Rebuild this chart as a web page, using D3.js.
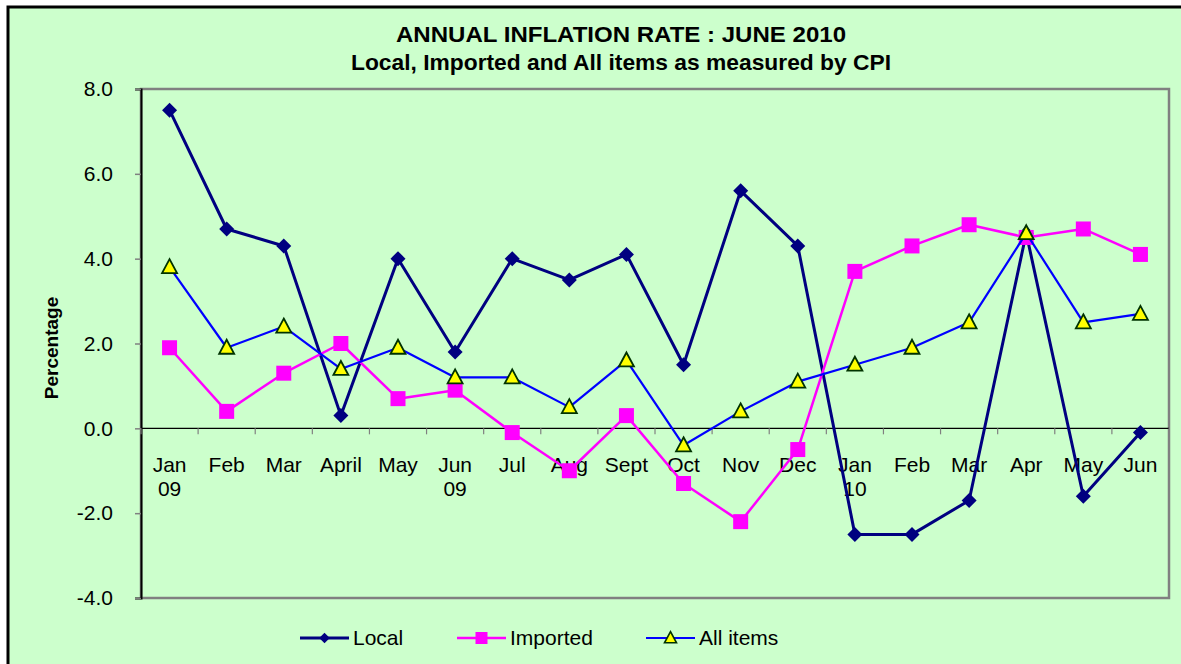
<!DOCTYPE html>
<html>
<head>
<meta charset="utf-8">
<script src="https://cdn.jsdelivr.net/npm/d3@7"></script>
<style>
  body { margin: 0; background: #fff; }
  svg { display: block; font-family: "Liberation Sans", Arial, sans-serif; }
</style>
</head>
<body>
<script>
// data
var months = ["Jan\n09", "Feb", "Mar", "April", "May", "Jun\n09", "Jul", "Aug", "Sept", "Oct",
              "Nov", "Dec", "Jan\n10", "Feb", "Mar", "Apr", "May", "Jun"];
var local    = [7.5, 4.7, 4.3, 0.3, 4.0, 1.8, 4.0, 3.5, 4.1, 1.5, 5.6, 4.3, -2.5, -2.5, -1.7, 4.6, -1.6, -0.1];
var imported = [1.9, 0.4, 1.3, 2.0, 0.7, 0.9, -0.1, -1.0, 0.3, -1.3, -2.2, -0.5, 3.7, 4.3, 4.8, 4.5, 4.7, 4.1];
var allItems = [3.8, 1.9, 2.4, 1.4, 1.9, 1.2, 1.2, 0.5, 1.6, -0.4, 0.4, 1.1, 1.5, 1.9, 2.5, 4.6, 2.5, 2.7];
var yTicks = [-4, -2, 0, 2, 4, 6, 8];
var seriesNames = ["Local", "Imported", "All items"];

var W = 1181, H = 664;
var pLeft = 141, pRight = 1169, pTop = 89, pBottom = 598;

var svg = d3.select("body").append("svg")
    .attr("width", W)
    .attr("height", H);

// outer chart area
svg.append("rect")
    .attr("x", 8).attr("y", 7)
    .attr("width", W + 10).attr("height", H + 10)
    .attr("fill", "#CCFFCC")
    .attr("stroke", "#000")
    .attr("stroke-width", 3);

var x = d3.scaleBand().domain(d3.range(months.length)).range([pLeft, pRight]);
var y = d3.scaleLinear().domain([-4, 8]).range([pBottom, pTop]);
var cx = function(i) { return x(i) + x.bandwidth() / 2; };

// plot area border
svg.append("rect")
    .attr("x", pLeft).attr("y", pTop)
    .attr("width", pRight - pLeft).attr("height", pBottom - pTop)
    .attr("fill", "none")
    .attr("stroke", "#808080")
    .attr("stroke-width", 2.5);

// y axis
var fmt = function(d) { return d3.format(".1f")(d).replace("\u2212", "-"); };
var yAxis = svg.append("g")
    .attr("transform", "translate(" + pLeft + ",0)")
    .call(d3.axisLeft(y).tickValues(yTicks).tickSize(6).tickPadding(22).tickFormat(fmt));
yAxis.select(".domain").attr("stroke", "#000").attr("stroke-width", 2);
yAxis.selectAll(".tick line").attr("stroke", "#808080").attr("stroke-width", 1.5);
yAxis.selectAll(".tick text").attr("font-size", 21).attr("fill", "#000")
    .attr("font-family", "Liberation Sans, Arial, sans-serif");

// x axis at zero
svg.append("line")
    .attr("x1", pLeft).attr("x2", pRight)
    .attr("y1", y(0)).attr("y2", y(0))
    .attr("stroke", "#000")
    .attr("stroke-width", 1.2);

// tick marks between categories
svg.append("g").selectAll("line")
    .data(d3.range(months.length + 1))
    .join("line")
    .attr("x1", function(i) { return pLeft + i * x.bandwidth(); })
    .attr("x2", function(i) { return pLeft + i * x.bandwidth(); })
    .attr("y1", y(0))
    .attr("y2", y(0) + 6)
    .attr("stroke", "#808080")
    .attr("stroke-width", 1.2);

// category labels
var lab = svg.append("g").selectAll("text")
    .data(months)
    .join("text")
    .attr("text-anchor", "middle")
    .attr("font-size", 21)
    .attr("fill", "#000");
lab.each(function(d, i) {
    var parts = d.split("\n");
    d3.select(this).selectAll("tspan")
        .data(parts)
        .join("tspan")
        .attr("x", cx(i))
        .attr("y", function(p, j) { return 472 + j * 24; })
        .text(function(p) { return p; });
});

var line = d3.line()
    .x(function(d, i) { return cx(i); })
    .y(function(d) { return y(d); });

var diamond = "M0,-7.5L7.5,0L0,7.5L-7.5,0Z";
var square = "M-7.5,-7.5H7.5V7.5H-7.5Z";
var triangle = "M0,-8L7.5,6H-7.5Z";

function drawSeries(vals, color, width, shape, fill, stroke) {
    svg.append("path")
        .datum(vals)
        .attr("fill", "none")
        .attr("stroke", color)
        .attr("stroke-width", width)
        .attr("stroke-linejoin", "round")
        .attr("d", line);
    svg.append("g").selectAll("path")
        .data(vals)
        .join("path")
        .attr("transform", function(d, i) { return "translate(" + cx(i) + "," + y(d) + ")"; })
        .attr("d", shape)
        .attr("fill", fill)
        .attr("stroke", stroke)
        .attr("stroke-width", stroke == "none" ? 0 : 1.8);
}

drawSeries(local, "#000080", 3, diamond, "#000080", "none");
drawSeries(imported, "#FF00FF", 2.5, square, "#FF00FF", "none");
drawSeries(allItems, "#0000FF", 2.2, triangle, "#FFFF00", "#003300");

// titles
svg.append("text")
    .attr("x", 621).attr("y", 42)
    .attr("text-anchor", "middle")
    .attr("font-size", 22).attr("font-weight", "bold")
    .attr("textLength", 450).attr("lengthAdjust", "spacingAndGlyphs")
    .text("ANNUAL INFLATION RATE : JUNE 2010");
svg.append("text")
    .attr("x", 621).attr("y", 70)
    .attr("text-anchor", "middle")
    .attr("font-size", 22).attr("font-weight", "bold")
    .attr("textLength", 540).attr("lengthAdjust", "spacingAndGlyphs")
    .text("Local, Imported and All items as measured by CPI");

svg.append("text")
    .attr("transform", "translate(58,348) rotate(-90)")
    .attr("text-anchor", "middle")
    .attr("font-size", 19).attr("font-weight", "bold")
    .text("Percentage");

// legend
var legendX = [300, 457, 646];
var legendStyle = [
    {color: "#000080", shape: diamond, fill: "#000080", stroke: "none", w: 3, s: 0.7},
    {color: "#FF00FF", shape: square, fill: "#FF00FF", stroke: "none", w: 2.5, s: 0.8},
    {color: "#0000FF", shape: triangle, fill: "#FFFF00", stroke: "#003300", w: 2.2, s: 0.8}
];
seriesNames.forEach(function(name, i) {
    var g = svg.append("g").attr("transform", "translate(" + legendX[i] + ",638)");
    var st = legendStyle[i];
    g.append("line").attr("x1", 0).attr("x2", 49).attr("y1", 0).attr("y2", 0)
        .attr("stroke", st.color).attr("stroke-width", st.w);
    g.append("path").attr("d", st.shape)
        .attr("transform", "translate(24.5,0) scale(" + st.s + ")")
        .attr("fill", st.fill).attr("stroke", st.stroke)
        .attr("stroke-width", st.stroke == "none" ? 0 : 2);
    g.append("text").attr("x", 53).attr("y", 7)
        .attr("font-size", 21).text(name);
});
</script>
</body>
</html>
